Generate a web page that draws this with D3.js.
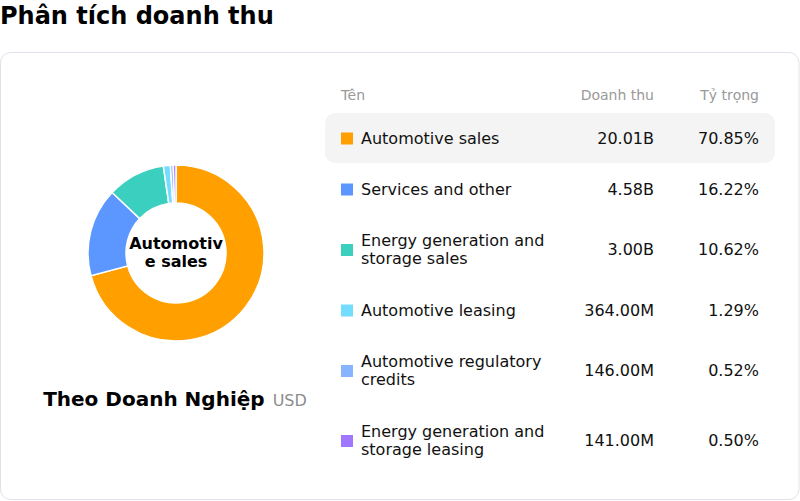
<!DOCTYPE html>
<html>
<head>
<meta charset="utf-8">
<script src="https://cdn.jsdelivr.net/npm/d3@7"></script>
<style>
	body { margin: 0; background: #fff; font-family: 'DejaVu Sans', sans-serif; }
</style>
</head>
<body>
<div class="chart"></div>
<script>
// revenue breakdown - donut + table
const names = [
	'Automotive sales',
	'Services and other',
	'Energy generation and storage sales',
	'Automotive leasing',
	'Automotive regulatory credits',
	'Energy generation and storage leasing'
]
const revenue = [20.01e9, 4.58e9, 3.00e9, 364e6, 146e6, 141e6]
const revenueLabels = ['20.01B', '4.58B', '3.00B', '364.00M', '146.00M', '141.00M']
const shares = ['70.85%', '16.22%', '10.62%', '1.29%', '0.52%', '0.50%']
const colors = ['#ff9f00', '#5b97ff', '#3acfbf', '#74ddff', '#87b4ff', '#a078ff']
const headers = ['Tên', 'Doanh thu', 'Tỷ trọng']

const data = names.map((n, i) => ({name: n, value: revenue[i], label: revenueLabels[i], share: shares[i]}))

const width = 800
const height = 501
const font = "'DejaVu Sans', sans-serif"

const svg = d3.select('.chart')
	.append('svg')
	.attr('width', width)
	.attr('height', height)
	.style('display', 'block')

// text measuring for wrapping
const ctx = document.createElement('canvas').getContext('2d')
function measure(t, f) { ctx.font = f; return ctx.measureText(t).width }

function wrapWords(text, maxW, f) {
	const words = text.split(' ')
	const lines = []
	let cur = ''
	words.forEach(w => {
		const test = cur ? cur + ' ' + w : w
		if (measure(test, f) > maxW && cur) { lines.push(cur); cur = w }
		else cur = test
	})
	lines.push(cur)
	return lines
}

function wrapChars(text, maxW, f) {
	const lines = []
	let cur = ''
	for (const ch of text) {
		if (measure(cur + ch, f) > maxW && cur) { lines.push(cur.trim()); cur = ch }
		else cur += ch
	}
	lines.push(cur.trim())
	return lines
}

// title
svg.append('text')
	.attr('x', 0)
	.attr('y', 24)
	.attr('font-family', font)
	.attr('font-weight', 'bold')
	.attr('font-size', 24)
	.attr('fill', '#000')
	.text('Phân tích doanh thu')

// card
svg.append('rect')
	.attr('x', 0.5)
	.attr('y', 52.5)
	.attr('width', width - 1.5)
	.attr('height', height - 54)
	.attr('rx', 10)
	.attr('fill', '#fff')
	.attr('stroke', '#e2e0ea')

// donut
const cx = 176, cy = 253
const outerR = 88, innerR = 50

const pie = d3.pie().value(d => d.value).sort(null)
const arc = d3.arc().innerRadius(innerR).outerRadius(outerR)

const colorScale = d3.scaleOrdinal().domain(names).range(colors)

const donut = svg.append('g')
	.attr('transform', `translate(${cx},${cy})`)

donut.selectAll('path')
	.data(pie(data))
	.enter()
	.append('path')
	.attr('d', arc)
	.attr('fill', d => colorScale(d.data.name))
	.attr('stroke', '#fff')
	.attr('stroke-width', 1.5)

// centre label
const centerFont = `bold 16px ${font}`
const centerLines = wrapChars(data[0].name, 100, centerFont)
donut.append('text')
	.attr('font-family', font)
	.attr('font-weight', 'bold')
	.attr('font-size', 16)
	.attr('text-anchor', 'middle')
	.attr('fill', '#000')
	.selectAll('tspan')
	.data(centerLines)
	.enter()
	.append('tspan')
	.attr('x', 0)
	.attr('y', (d, i) => (i - (centerLines.length - 1) / 2) * 18 + 5)
	.text(d => d)

// donut caption
const caption = svg.append('text')
	.attr('x', cx - 1)
	.attr('y', 406)
	.attr('text-anchor', 'middle')
	.attr('font-family', font)
caption.append('tspan')
	.attr('font-weight', 'bold')
	.attr('font-size', 20)
	.attr('fill', '#000')
	.text('Theo Doanh Nghiệp')
caption.append('tspan')
	.attr('dx', 8)
	.attr('font-size', 16)
	.attr('fill', '#8c8c8c')
	.text('USD')

// table
const colName = 361, colValue = 654, colShare = 759
const rowFont = `16px ${font}`
const lineH = 19

svg.append('text')
	.attr('x', 341).attr('y', 100)
	.attr('font-family', font).attr('font-size', 14).attr('fill', '#999')
	.text(headers[0])
svg.append('text')
	.attr('x', colValue).attr('y', 100)
	.attr('text-anchor', 'end')
	.attr('font-family', font).attr('font-size', 14).attr('fill', '#999')
	.text(headers[1])
svg.append('text')
	.attr('x', colShare).attr('y', 100)
	.attr('text-anchor', 'end')
	.attr('font-family', font).attr('font-size', 14).attr('fill', '#999')
	.text(headers[2])

let rowY = 113
data.forEach((d, i) => {
	const lines = wrapWords(d.name, 195, rowFont)
	const h = 32 + lines.length * lineH
	const mid = rowY + h / 2
	const g = svg.append('g')

	if (i === 0) {
		g.append('rect')
			.attr('x', 325).attr('y', rowY)
			.attr('width', 450).attr('height', h - 1)
			.attr('rx', 10)
			.attr('fill', '#f4f4f4')
	}

	g.append('rect')
		.attr('x', 341).attr('y', mid - 6)
		.attr('width', 12).attr('height', 12)
		.attr('fill', colorScale(d.name))

	g.append('text')
		.attr('font-family', font).attr('font-size', 16).attr('fill', '#111')
		.selectAll('tspan')
		.data(lines)
		.enter()
		.append('tspan')
		.attr('x', colName)
		.attr('y', (l, j) => mid + (j - (lines.length - 1) / 2) * 18 + 5)
		.text(l => l)

	g.append('text')
		.attr('x', colValue).attr('y', mid + 5)
		.attr('text-anchor', 'end')
		.attr('font-family', font).attr('font-size', 16).attr('fill', '#111')
		.text(d.label)

	g.append('text')
		.attr('x', colShare).attr('y', mid + 5)
		.attr('text-anchor', 'end')
		.attr('font-family', font).attr('font-size', 16).attr('fill', '#111')
		.text(d.share)

	rowY += h
})
</script>
</body>
</html>
